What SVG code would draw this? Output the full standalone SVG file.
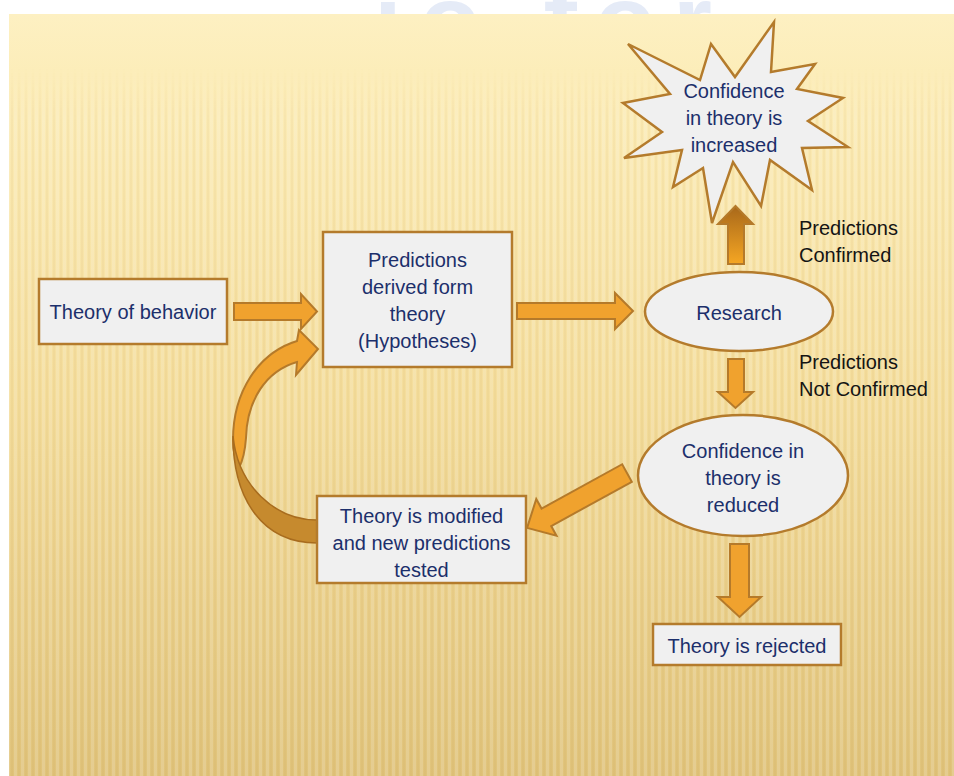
<svg xmlns="http://www.w3.org/2000/svg" width="954" height="776" viewBox="0 0 954 776">
<defs>
<style>
.box{fill:#f0f0f0;stroke:#b47b2c;stroke-width:2.5}
.t{font-family:"Liberation Sans",Arial,sans-serif;font-size:20px;fill:#1c2f6b;text-anchor:middle}
.lbl{font-family:"Liberation Sans",Arial,sans-serif;font-size:20px;fill:#141414}
.arr{fill:#f0a22e;stroke:#b57a2a;stroke-width:2;stroke-linejoin:miter}
</style>
<linearGradient id="bg" x1="0" y1="0" x2="0" y2="1">
<stop offset="0" stop-color="#fdf0c2"/>
<stop offset="0.08" stop-color="#fcedb9"/>
<stop offset="0.5" stop-color="#f4dd9c"/>
<stop offset="1" stop-color="#e0c37b"/>
</linearGradient>
<linearGradient id="up" x1="0" y1="0" x2="0" y2="1">
<stop offset="0" stop-color="#a8681a"/>
<stop offset="1" stop-color="#f5a623"/>
</linearGradient>
<pattern id="stripes" x="0" y="0" width="7" height="10" patternUnits="userSpaceOnUse">
<rect x="0" y="0" width="3" height="10" fill="#ffffff" opacity="0.16"/>
<rect x="4" y="0" width="2" height="10" fill="#b08a3a" opacity="0.06"/>
</pattern>
<linearGradient id="fade" x1="0" y1="0" x2="0" y2="1">
<stop offset="0" stop-color="#000"/>
<stop offset="0.07" stop-color="#000"/>
<stop offset="0.14" stop-color="#fff"/>
<stop offset="1" stop-color="#fff"/>
</linearGradient>
<mask id="stripeMask" maskUnits="userSpaceOnUse" x="9" y="14" width="945" height="762">
<rect x="9" y="14" width="945" height="762" fill="url(#fade)"/>
</mask>
</defs>

<g id="background">
<rect x="0" y="0" width="954" height="776" fill="#ffffff"/>
<text x="374" y="55" font-family="'Liberation Sans',Arial,sans-serif" font-size="100" font-weight="bold" fill="#e5ebf7" textLength="338" lengthAdjust="spacing">io for</text>
<rect x="9" y="14" width="945" height="762" fill="url(#bg)"/>
<rect x="9" y="14" width="945" height="762" fill="url(#stripes)" mask="url(#stripeMask)"/>
</g>

<g id="connectors">
<polygon class="arr" points="234,303 301,303 301,294 317,311.5 301,329 301,320 234,320"/>
<polygon class="arr" points="517,303 615,303 615,293 633,311 615,329 615,319 517,319"/>
<polygon class="arr" style="fill:url(#up)" points="728,264 728,224 718,224 735.5,206 753,224 744,224 744,264"/>
<polygon class="arr" points="728,359 744,359 744,392 753,392 735.5,408 718,392 728,392"/>
<polygon class="arr" points="730,544 749,544 749,597 761,597 739.5,617 718,597 730,597"/>
<polygon class="arr" transform="translate(627,473) rotate(151.2)" points="0,-10 92,-10 92,-21 114,0 92,21 92,10 0,10"/>
<path class="arr" d="M233,440 C233,392 258,353 297,341 L299,330 L318,349 L296,375 L297,362 C266,371 247,400 246,438 C245,452 242,462 239,468 C235,460 233,452 233,440 Z"/>
<path d="M317,543 C263,543 233,500 233,436 C238,486 275,520 317,520 Z" fill="#c68a2e" stroke="#a86c1e" stroke-width="1.5"/>
</g>

<g id="node-theory">
<rect class="box" x="39" y="279" width="188" height="65"/>
<text class="t" x="133" y="319">Theory of behavior</text>
</g>

<g id="node-predictions">
<rect class="box" x="323" y="232" width="189" height="135"/>
<text class="t" x="417.5" y="267">Predictions</text>
<text class="t" x="417.5" y="294">derived form</text>
<text class="t" x="417.5" y="321">theory</text>
<text class="t" x="417.5" y="348">(Hypotheses)</text>
</g>

<g id="node-research">
<ellipse class="box" cx="739" cy="311.5" rx="94" ry="39.5"/>
<text class="t" x="739" y="320">Research</text>
</g>

<g id="node-increased">
<polygon class="box" points="774,22 771,72 815,64 797,89 843,98 808,121 848,147 802,148 812,190 770,160 761,206 733,162 712,223 703,168 673,187 682,150 624,158 662,132 623,103 670,94 628,44 700,80 711,44 735,77"/>
<text class="t" x="734" y="98">Confidence</text>
<text class="t" x="734" y="125">in theory is</text>
<text class="t" x="734" y="152">increased</text>
</g>

<g id="node-reduced">
<ellipse class="box" cx="743" cy="475.5" rx="105" ry="60.5"/>
<text class="t" x="743" y="458">Confidence in</text>
<text class="t" x="743" y="485">theory is</text>
<text class="t" x="743" y="512">reduced</text>
</g>

<g id="node-modified">
<rect class="box" x="317" y="496" width="209" height="87"/>
<text class="t" x="421.5" y="523">Theory is modified</text>
<text class="t" x="421.5" y="550">and new predictions</text>
<text class="t" x="421.5" y="577">tested</text>
</g>

<g id="node-rejected">
<rect class="box" x="653" y="624" width="188" height="41"/>
<text class="t" x="747" y="653">Theory is rejected</text>
</g>

<g id="labels">
<text class="lbl" x="799" y="235">Predictions</text>
<text class="lbl" x="799" y="262">Confirmed</text>
<text class="lbl" x="799" y="369">Predictions</text>
<text class="lbl" x="799" y="396">Not Confirmed</text>
</g>
</svg>
